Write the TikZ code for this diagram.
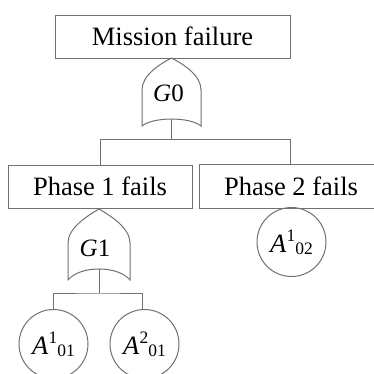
\documentclass[tikz,border=0pt]{standalone}
\usepackage{fontspec}
\setmainfont{Liberation Serif}
\newcommand{\evlab}[2]{\textit{A}\raisebox{11pt}{\fontsize{17.5}{17}\selectfont #1}\raisebox{-2pt}{\fontsize{17.5}{17}\selectfont #2}}
\definecolor{ln}{HTML}{707070}
\begin{document}
\begin{tikzpicture}[x=1pt,y=-1pt,
  box/.style={draw=ln,line width=1pt,inner sep=0pt,font=\fontsize{26.5}{30}\selectfont},
  evt/.style={draw=ln,line width=1pt,circle,inner sep=0pt,minimum size=69pt,font=\fontsize{26.5}{30}\selectfont},
  gatelab/.style={inner sep=0pt,font=\fontsize{25}{30}\selectfont},
  gateline/.style={draw=ln,line width=1pt},
  conn/.style={draw=ln,line width=1pt}]
\useasboundingbox (0,0) rectangle (374,373);
% boxes
\node[box,minimum width=235pt,minimum height=43pt] (mf) at (172.5,36.5) {Mission failure};
\node[box,minimum width=184pt,minimum height=43pt] (p1) at (100,186.5) {Phase 1 fails};
\node[box,minimum width=184pt,minimum height=44pt] (p2) at (291,186) {Phase 2 fails};
% gate G0
\coordinate (g0top) at (171.5,58);
\coordinate (g0bot) at (171.5,119.3);
\path[gateline] (142,126) -- (142,90) .. controls (142,75) and (160,64) .. (g0top)
  .. controls (183,64) and (201,75) .. (201,90) -- (201,126)
  .. controls (190,116.7) and (153,116.7) .. (142,126) -- cycle;
\node[gatelab] (g0) at (168.5,93) {\textit{G}0};
% gate G1
\coordinate (g1top) at (99,209);
\coordinate (g1bot) at (99,269);
\path[gateline] (68,280) -- (68,243) .. controls (68,228) and (87,216) .. (g1top)
  .. controls (111,216) and (130,228) .. (130,243) -- (130,280)
  .. controls (118,265.3) and (80,265.3) .. (68,280) -- cycle;
\node[gatelab] (g1) at (95,248.5) {\textit{G}1};
% events
\node[evt] (a101) at (53.5,344) {\evlab{1}{01}};
\node[evt] (a201) at (144.5,344) {\evlab{2}{01}};
\node[evt] (a102) at (291.5,242) {\evlab{1}{02}};
% connectors
\coordinate (j0) at (171.5,139.5);
\coordinate (j1) at (99,293);
\path[conn] (g0bot) -- (j0);
\path[conn] (p1.north) |- (j0) -| ([xshift=-1pt]p2.north);
\path[conn] (g1bot) -- (j1);
\path[conn] (a101.north) |- (j1) -| ([xshift=-2pt]a201.north);
\end{tikzpicture}
\end{document}
